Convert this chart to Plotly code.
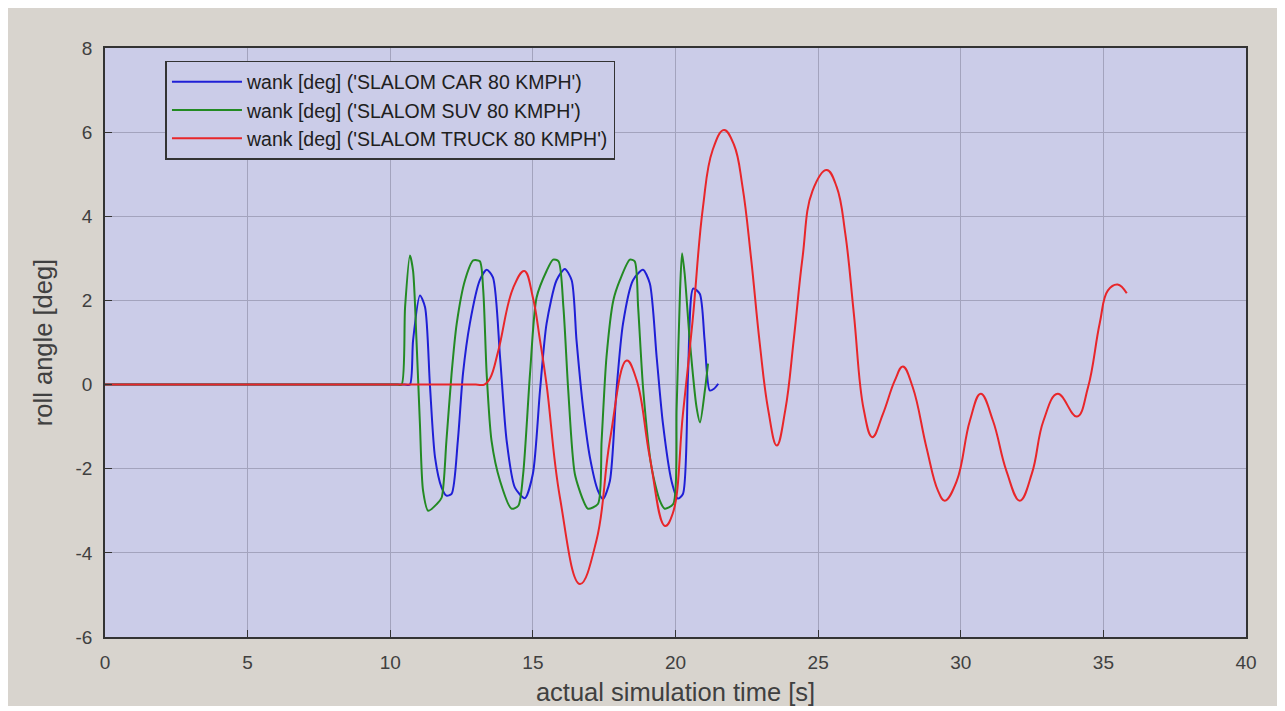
import plotly.graph_objects as go

# Car (blue)
car_t = [0, 2, 4, 6, 8, 10, 10.5, 10.69, 10.8, 11.04, 11.22, 11.39, 11.57, 11.8, 11.97, 12.15, 12.37, 12.55, 12.79, 13.14, 13.38,
         13.6, 13.85, 14.08, 14.37, 14.72, 15.0, 15.25, 15.48, 15.83, 16.12, 16.36, 16.53, 16.76, 17.0,
         17.28, 17.46, 17.7, 17.93, 18.16, 18.51, 18.86, 19.1, 19.34, 19.56, 19.86, 20.08, 20.26, 20.44,
         20.62, 20.85, 21.02, 21.2, 21.35, 21.5]
car_v = [0, 0, 0, 0, 0, 0, 0, 0, 1.05, 2.12, 1.84, 0.0, -1.73, -2.45, -2.64, -2.6, -1.33, 0.26, 1.45, 2.48, 2.73,
         2.55, 0.65, -1.33, -2.45, -2.7, -2.12, -0.14, 1.45, 2.48, 2.75, 2.48, 1.05, -0.55, -1.73,
         -2.52, -2.72, -2.29, -0.14, 1.45, 2.48, 2.73, 2.4, 0.65, -0.93, -2.29, -2.71, -2.6, 0.26,
         2.28, 2.16, 1.05, -0.14, -0.1, 0.02]

# SUV (green)
suv_t = [0, 2, 4, 6, 8, 10, 10.25, 10.4, 10.52, 10.69, 10.8, 10.92, 11.04, 11.15, 11.33, 11.63, 11.8, 11.97, 12.15, 12.33, 12.62,
         12.91, 13.14, 13.26, 13.38, 13.55, 13.85, 14.25, 14.49, 14.66, 14.9, 15.13, 15.48, 15.71, 15.9,
         16.07, 16.24, 16.47, 16.77, 16.93, 17.28, 17.41, 17.58, 17.82, 18.05, 18.4, 18.57, 18.69, 18.87,
         19.16, 19.45, 19.62, 19.92, 20.04, 20.16, 20.23, 20.32, 20.5, 20.74, 20.86, 21.03, 21.14]
suv_v = [0, 0, 0, 0, 0, 0, 0, 0, 1.84, 3.07, 2.7, 1.05, -0.93, -2.52, -3.0, -2.84, -2.69, -1.33, 0.26, 1.45, 2.48,
         2.95, 2.93, 2.24, 0.26, -1.33, -2.29, -2.95, -2.88, -2.12, 0.26, 2.07, 2.7, 2.97, 2.93,
         1.84, -0.14, -2.12, -2.76, -2.95, -2.84, -1.33, 0.65, 2.0, 2.48, 2.97, 2.93, 1.84, -0.14,
         -1.97, -2.76, -2.95, -2.84, -0.55, 2.24, 3.12, 2.64, 1.05, -0.55, -0.9, -0.14, 0.5]

# Truck (red)
truck_t = [0, 2, 4, 6, 8, 10, 12, 13.0, 13.3, 13.5, 13.79, 14.31, 14.7, 15.0, 15.25, 15.48, 15.95, 16.65, 17.23, 17.7, 18.29, 18.64,
           19.1, 19.63, 19.9, 20.26, 20.6, 20.96, 21.3, 21.7, 22.05, 22.35, 22.65, 22.95, 23.25, 23.55, 23.85,
           24.15, 24.45, 24.8, 25.3, 25.65, 25.95, 26.25, 26.6, 26.9, 27.27, 27.69, 27.97, 28.32, 28.8,
           29.2, 29.44, 29.86, 30.32, 30.7, 31.13, 31.6, 32.07, 32.5, 32.9, 33.4, 34.07, 34.46, 34.87,
           35.16, 35.5, 35.82]
truck_v = [0, 0, 0, 0, 0, 0, 0, 0, 0, 0.15, 0.81, 2.3, 2.7, 2.07, 1.05, 0.0, -2.69, -4.74, -3.7, -1.33, 0.57, 0.1,
           -1.73, -3.36, -3.07, -0.7, 1.52, 4.2, 5.57, 6.05, 5.7, 4.7, 3.0, 1.0, -0.6, -1.45, -0.6,
           1.1, 3.0, 4.6, 5.1, 4.7, 3.6, 1.7, -0.6, -1.25, -0.7, 0.1, 0.43, -0.07, -1.5,
           -2.52, -2.76, -2.29, -0.86, -0.22, -0.86, -2.05, -2.76, -2.1, -0.86, -0.22, -0.76, -0.07, 1.45,
           2.24, 2.38, 2.17]

names = ["wank [deg] ('SLALOM CAR 80 KMPH')",
         "wank [deg] ('SLALOM SUV 80 KMPH')",
         "wank [deg] ('SLALOM TRUCK 80 KMPH')"]
colors = ["#1f1fd6", "#238a23", "#e8262a"]

x_ticks = [0, 5, 10, 15, 20, 25, 30, 35, 40]
y_ticks = [-6, -4, -2, 0, 2, 4, 6, 8]
y_tick_text = ["-6", "-4", "-2", "0", "2", "4", "6", "8"]

fig = go.Figure()
for t, v, n, c, s in [(car_t, car_v, names[0], colors[0], 0.7),
                      (suv_t, suv_v, names[1], colors[1], 0.7),
                      (truck_t, truck_v, names[2], colors[2], 1.2)]:
    fig.add_trace(go.Scatter(x=t, y=v, name=n, mode="lines",
                             line=dict(color=c, width=2, shape="spline", smoothing=s)))

axis_common = dict(showgrid=True, gridcolor="#a3a3bd", gridwidth=1,
                   showline=True, linecolor="#333333", linewidth=1.5, mirror=True,
                   ticks="inside", ticklen=7, tickcolor="#333333",
                   tickfont=dict(family="Liberation Sans, Arial", size=19, color="#404040"),
                   zeroline=False, automargin=False, ticklabelstandoff=7)

fig.update_layout(
    width=1270, height=698,
    margin=dict(l=97, r=32, t=40, b=69),
    paper_bgcolor="#d8d4ce",
    plot_bgcolor="#cbcce8",
    showlegend=True,
    legend=dict(x=0.053, y=0.978, xanchor="left", yanchor="top",
                bgcolor="#cbcce8", bordercolor="#333333", borderwidth=1.5,
                font=dict(family="Liberation Sans, Arial", size=19.5, color="#202020"),
                tracegroupgap=0, itemwidth=70),
    xaxis=dict(range=[0, 40], tickvals=x_ticks, **axis_common,
               title=dict(text="actual simulation time [s]", standoff=20,
                          font=dict(family="Liberation Sans, Arial", size=25.5, color="#404040"))),
    yaxis=dict(range=[-6, 8], tickvals=y_ticks, ticktext=y_tick_text, **axis_common,
               title=dict(text="roll angle [deg]", standoff=16,
                          font=dict(family="Liberation Sans, Arial", size=25.5, color="#404040"))),
)

fig.write_html("out.html")
